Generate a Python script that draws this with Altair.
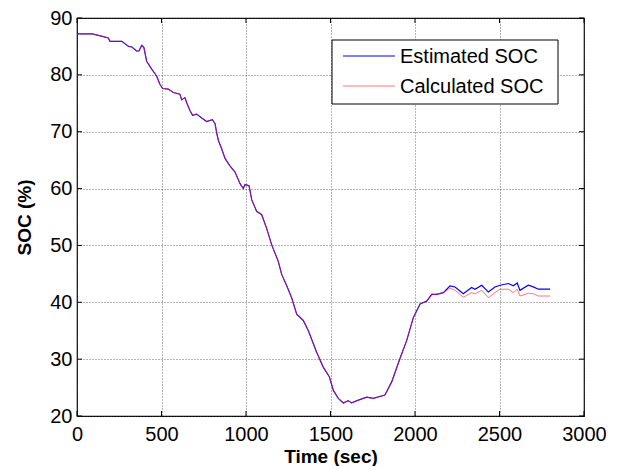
import altair as alt
import pandas as pd

# Common part (both series coincide)
time_common = [0, 90, 145, 185, 195, 265, 305, 325, 352, 367, 383, 396, 412, 442, 471, 491, 507,
               540, 570, 609, 619, 639, 649, 669, 684, 708, 738, 767, 801, 817, 826, 836, 856,
               876, 905, 935, 964, 984, 994, 1018, 1034, 1063, 1093, 1122, 1152, 1191, 1211,
               1241, 1270, 1300, 1339, 1369, 1418, 1457, 1493, 1517, 1546, 1576, 1605, 1625,
               1665, 1714, 1753, 1822, 1862, 1911, 1951, 1990, 2030, 2069, 2099, 2128, 2168]
soc_common = [87.2, 87.2, 86.8, 86.5, 85.9, 85.9, 85.0, 84.9, 84.2, 84.2, 85.2, 84.8, 82.4, 81.0,
              79.8, 78.3, 77.6, 77.5, 76.9, 76.6, 75.6, 76.0, 75.1, 73.7, 72.9, 73.1, 72.4, 71.8,
              72.1, 71.4, 69.9, 68.5, 67.0, 65.3, 64.0, 62.9, 60.9, 60.0, 60.7, 60.5, 58.0, 56.0,
              55.4, 53.0, 50.1, 47.2, 44.9, 42.9, 40.8, 37.9, 36.8, 35.0, 31.2, 28.6, 26.9, 24.5,
              23.1, 22.3, 22.7, 22.3, 22.8, 23.3, 23.1, 23.7, 26.0, 30.1, 33.3, 37.3, 39.7, 40.2,
              41.4, 41.4, 41.7]

# Tail where the two series diverge
time_tail = [2207, 2237, 2286, 2335, 2355, 2395, 2434, 2473, 2503, 2552, 2582, 2605, 2621, 2670,
             2700, 2730, 2800]
est_tail = [42.9, 42.7, 41.5, 42.6, 42.3, 43.0, 41.8, 42.7, 43.0, 43.3, 42.9, 43.4, 42.1, 43.0,
            42.7, 42.3, 42.3]
calc_tail = [42.5, 42.1, 40.9, 41.7, 41.5, 42.1, 40.8, 41.7, 42.3, 42.3, 41.7, 42.3, 41.1, 41.6,
             41.5, 41.1, 41.1]

series_names = ["Estimated SOC", "Calculated SOC"]
series_colors = ["#0000ff", "#ff2020"]
series_opacity = [1.0, 0.6]
series_width = [1.2, 1.0]

x_ticks = [0, 500, 1000, 1500, 2000, 2500, 3000]
y_ticks = [20, 30, 40, 50, 60, 70, 80, 90]

rows = []
for i, (t, s) in enumerate(zip(time_common, soc_common)):
    rows.append({"time": t, "soc": s, "series": series_names[0], "ord": i})
    rows.append({"time": t, "soc": s, "series": series_names[1], "ord": i})
n = len(time_common)
for j, t in enumerate(time_tail):
    rows.append({"time": t, "soc": est_tail[j], "series": series_names[0], "ord": n + j})
    rows.append({"time": t, "soc": calc_tail[j], "series": series_names[1], "ord": n + j})
df = pd.DataFrame(rows)

FONT = "Liberation Sans"
W, H = 507, 398

color = alt.Color("series:N", scale=alt.Scale(domain=series_names, range=series_colors),
                  legend=None)

xscale = alt.Scale(domain=[0, 3000], nice=False)
yscale = alt.Scale(domain=[20, 90], nice=False, zero=False)

x = alt.X("time:Q", title="Time (sec)", scale=xscale,
          axis=alt.Axis(values=x_ticks, format="d"))
y = alt.Y("soc:Q", title="SOC (%)", scale=yscale,
          axis=alt.Axis(values=y_ticks, format="d"))

layers = []
for k, name in enumerate(series_names):
    layers.append(
        alt.Chart(df[df.series == name]).mark_line(
            strokeWidth=series_width[k], opacity=series_opacity[k]
        ).encode(x=x, y=y, color=color, order="ord:Q")
    )

# inward ticks (MATLAB style) on all four sides
xt = pd.DataFrame({"t": x_ticks})
yt = pd.DataFrame({"v": y_ticks})
tick_style = dict(color="black", strokeWidth=1)
layers += [
    alt.Chart(xt).mark_rule(**tick_style).encode(
        x=alt.X("t:Q", scale=xscale), y=alt.value(H), y2=alt.value(H - 5)),
    alt.Chart(xt).mark_rule(**tick_style).encode(
        x=alt.X("t:Q", scale=xscale), y=alt.value(0), y2=alt.value(5)),
    alt.Chart(yt).mark_rule(**tick_style).encode(
        y=alt.Y("v:Q", scale=yscale), x=alt.value(0), x2=alt.value(5)),
    alt.Chart(yt).mark_rule(**tick_style).encode(
        y=alt.Y("v:Q", scale=yscale), x=alt.value(W), x2=alt.value(W - 5)),
]

# legend box (MATLAB style, inside the axes)
leg = pd.DataFrame({"series": series_names})
layers.append(
    alt.Chart(leg.head(1)).mark_rect(fill="white", stroke="black", strokeWidth=1).encode(
        x=alt.value(255), x2=alt.value(481), y=alt.value(22), y2=alt.value(86))
)
row_y = [38, 68]
for k, name in enumerate(series_names):
    one = leg[leg.series == name]
    layers.append(
        alt.Chart(one).mark_rule(strokeWidth=series_width[k], opacity=series_opacity[k]).encode(
            x=alt.value(266), x2=alt.value(318), y=alt.value(row_y[k]),
            color=color)
    )
    layers.append(
        alt.Chart(one).mark_text(align="left", baseline="middle", font=FONT, fontSize=20,
                                 color="black").encode(
            x=alt.value(323), y=alt.value(row_y[k] + 1), text="series:N")
    )

chart = alt.layer(*layers).properties(
    width=W, height=H,
    autosize=alt.AutoSizeParams(type="none"),
    padding={"left": 69, "top": 10, "right": 37, "bottom": 50},
).configure_view(
    stroke="black", strokeWidth=1.2
).configure_axis(
    grid=True, gridColor="#444", gridDash=[1, 2], gridWidth=1, gridOpacity=0.8,
    domain=False, ticks=False,
    labelFont=FONT, labelFontSize=20, labelColor="black",
    titleFont=FONT, titleFontSize=19, titleFontWeight="bold", titleColor="black",
).configure_axisX(
    labelPadding=8, titlePadding=3, labelFlush=False
).configure_axisY(
    labelPadding=5, titlePadding=15, labelFlush=False
)

chart.save("out.html", embed_options={"renderer": "svg", "actions": False})
